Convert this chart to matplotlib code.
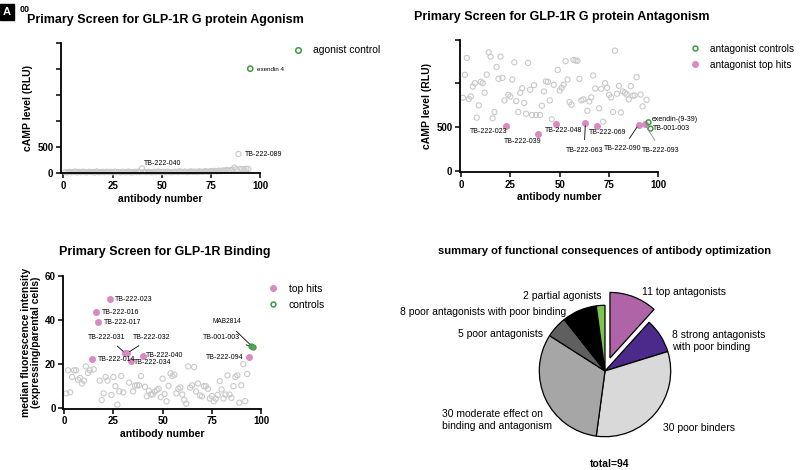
import matplotlib
matplotlib.use("Agg")
import matplotlib.pyplot as plt
from matplotlib.lines import Line2D

plt.rcParams['font.family'] = ['Liberation Sans', 'DejaVu Sans']

GREY = '#c9c9c9'
PINK = '#d98ac4'
GREEN = '#3f9a3f'

# ---- agonism screen (antibody 1..94, control at 95)
agon_values = [10, 5, 15, 8, 12, 20, 6, 14, 9, 18,
               11, 7, 16, 10, 13, 5, 22, 9, 12, 15,
               8, 17, 11, 14, 6, 19, 10, 13, 7, 16,
               12, 9, 20, 11, 8, 15, 13, 18, 10, 83,
               14, 9, 17, 12, 8, 16, 11, 21, 13, 10,
               15, 7, 19, 12, 9, 14, 18, 11, 25, 16,
               13, 20, 10, 17, 22, 14, 19, 12, 24, 18,
               15, 28, 21, 17, 30, 25, 33, 27, 38, 30,
               42, 35, 55, 40, 48, 60, 96, 65, 359, 72,
               70, 68, 75, 70]
agon_ctrl_x = [95]
agon_ctrl_y = [2000]

# ---- antagonism screen
antag_values = [837, 1099, 1292, 822, 852, 966, 1004, 610, 750, 1019,
                1004, 894, 1102, 1356, 1307, 602, 674, 1189, 1053, 1307,
                1064, 807, 515, 871, 852, 1045, 1242, 799, 674, 894,
                947, 777, 655, 1235, 928, 640, 981, 640, 428, 640,
                746, 909, 1023, 1019, 807, 591, 985, 542, 1155, 920,
                951, 985, 1254, 1045, 788, 758, 1269, 1262, 1258, 1053,
                807, 818, 549, 689, 795, 841, 1091, 943, 519, 716,
                939, 564, 1004, 951, 871, 841, 674, 1375, 883, 973,
                670, 909, 894, 875, 818, 970, 860, 864, 1072, 530,
                875, 739, 538, 814]
antag_hits = [23, 39, 48, 63, 69, 90, 93]
antag_ctrl_x = [95, 96]
antag_ctrl_y = [557, 485]

# ---- binding screen
bind_values = [6.5, 17, 7, 14, 17, 17, 12.7, 13.5, 11, 12.3,
               18.8, 15.8, 17, 22, 17.4, 43.3, 39, 12.3, 3.5, 6.5,
               14, 12.3, 49.4, 5.8, 14, 9.8, 1.4, 7.4, 14.4, 7,
               24.8, 24.8, 11.4, 21.2, 7.4, 10, 10.2, 10.2, 14.4, 23.3,
               9.5, 5.2, 7.7, 6, 6, 7.3, 8, 8.6, 4.8, 13.2,
               6.2, 2.9, 10, 15.6, 14.4, 15, 6.5, 8.6, 9.2, 6,
               3.5, 1.8, 18.8, 9.1, 10.2, 18.5, 7.4, 11, 5.6, 5.2,
               9.8, 9.8, 8.6, 4.2, 5.3, 2.9, 4.1, 5.8, 12.1, 8.3,
               4.2, 6, 14.7, 6, 4.5, 9.8, 14, 14.7, 2.3, 10.2,
               19.8, 3, 15.3, 23.2]
bind_hits = [14, 16, 17, 23, 31, 32, 34, 40, 94]
bind_ctrl_x = [95, 96]
bind_ctrl_y = [27.9, 27.4]

# ---- summary pie
pie_counts = [11, 8, 30, 30, 5, 8, 2]
pie_colors = ['#b064a8', '#4b2a8c', '#d9d9d9', '#a6a6a6', '#5f5f5f', '#000000', '#7cc44c']
pie_labels = ['11 top antagonists', '8 strong antagonists\nwith poor binding', '30 poor binders',
              '30 moderate effect on\nbinding and antagonism', '5 poor antagonists',
              '8 poor antagonists with poor binding', '2 partial agonists']

fig = plt.figure(figsize=(8, 4.7), dpi=100)

TFS = 9
LFS = 7.5
KFS = 7
AFS = 5


def style_axes(ax):
    for s in ['top', 'right']:
        ax.spines[s].set_visible(False)
    for s in ['left', 'bottom']:
        ax.spines[s].set_linewidth(1.3)
    ax.tick_params(direction='out', length=3.5, width=1.1, labelsize=KFS, pad=2)
    for lab in ax.get_xticklabels() + ax.get_yticklabels():
        lab.set_fontweight('bold')
    ax.set_xlabel('antibody number', fontsize=LFS, fontweight='bold', labelpad=2)


def split(values, hits):
    gx, gy, hx, hy = [], [], [], []
    for i, v in enumerate(values, start=1):
        if i in hits:
            hx.append(i); hy.append(v)
        else:
            gx.append(i); gy.append(v)
    return gx, gy, hx, hy


def grey_scatter(ax, x, y):
    ax.scatter(x, y, s=14, facecolors='none', edgecolors=GREY, linewidths=0.8, zorder=2, clip_on=False)


def title_px(text, x, y, size=TFS):
    fig.text(x / 800, 1 - y / 470, text, fontsize=size, fontweight='bold', ha='center', va='center')


# ===================== agonism
ax1 = fig.add_axes([0.0763, 0.6313, 0.2488, 0.2779])
agon_x = list(range(1, len(agon_values) + 1))
grey_scatter(ax1, agon_x, agon_values)
ax1.scatter(agon_ctrl_x, agon_ctrl_y, s=14, facecolors='none', edgecolors=GREEN, linewidths=1.1, zorder=3)
ax1.set_xlim(-1.2, 100)
ax1.set_ylim(-12, 2500)
ax1.set_xticks([0, 25, 50, 75, 100])
ax1.set_yticks([0, 500, 1000, 1500, 2000, 2500])
ax1.set_yticklabels(['0', '500', '', '', '', ''])
ax1.set_ylabel('cAMP level (RLU)', fontsize=LFS, fontweight='bold', labelpad=3)
style_axes(ax1)
title_px('Primary Screen for GLP-1R G protein Agonism', 165, 20)
ax1.text(50.6, 180, 'TB-222-040', fontsize=AFS, ha='center', va='center')
ax1.text(92.2, 354, 'TB-222-089', fontsize=AFS, ha='left', va='center')
ax1.text(98.2, 1988, 'exendin 4', fontsize=AFS - 0.5, ha='left', va='center')
ax1.legend(handles=[Line2D([], [], ls='', marker='o', ms=4, mfc='none', mec=GREEN, mew=1.1, label='agonist control')],
           loc='center left', bbox_to_anchor=(0.354, 0.893), bbox_transform=fig.transFigure,
           frameon=False, fontsize=LFS, handletextpad=0.5, borderaxespad=0)

# ===================== antagonism
ax2 = fig.add_axes([0.575, 0.634, 0.248, 0.2815])
gx, gy, hx, hy = split(antag_values, antag_hits)
grey_scatter(ax2, gx, gy)
ax2.scatter(hx, hy, s=16, color=PINK, zorder=3)
ax2.scatter(antag_ctrl_x, antag_ctrl_y, s=12, facecolors='none', edgecolors=GREEN, linewidths=1.1, zorder=3)
ax2.set_xlim(-0.5, 100)
ax2.set_ylim(-11, 1500)
ax2.set_xticks([0, 25, 50, 75, 100])
ax2.set_yticks([0, 500, 1000, 1500])
ax2.set_yticklabels(['0', '500', '', ''])
ax2.set_ylabel('cAMP level (RLU)', fontsize=LFS, fontweight='bold', labelpad=3)
style_axes(ax2)
title_px('Primary Screen for GLP-1R G protein Antagonism', 562, 17)
antag_notes = {23: (23.4, 454, 'right', False), 39: (31.5, 341, 'center', False),
               48: (51.8, 466, 'center', False), 63: (62.4, 239, 'center', True),
               69: (74.4, 443, 'center', False), 90: (82.0, 261, 'center', True),
               93: (101.3, 239, 'center', True)}
for idx, (tx, ty, ha, line) in antag_notes.items():
    lab = 'TB-222-%03d' % idx
    if line:
        ax2.annotate(lab, xy=(idx, antag_values[idx - 1]), xytext=(tx, ty), fontsize=AFS, ha=ha, va='center',
                     arrowprops=dict(arrowstyle='-', color='black' if idx != 93 else '#888888', lw=0.6,
                                     shrinkA=3, shrinkB=2))
    else:
        ax2.text(tx, ty, lab, fontsize=AFS, ha=ha, va='center')
ax2.text(96.4, 591, 'exendin-(9-39)', fontsize=AFS, ha='left', va='center')
ax2.text(97.0, 489, 'TB-001-003', fontsize=AFS, ha='left', va='center')
ax2.legend(handles=[Line2D([], [], ls='', marker='o', ms=3.5, mfc='none', mec=GREEN, mew=1.1, label='antagonist controls'),
                    Line2D([], [], ls='', marker='o', ms=4, mfc=PINK, mec=PINK, label='antagonist top hits')],
           loc='upper left', bbox_to_anchor=(0.851, 0.915), bbox_transform=fig.transFigure,
           frameon=False, fontsize=7.2, handletextpad=0.5, borderaxespad=0, labelspacing=0.6)

# ===================== binding
ax3 = fig.add_axes([0.0791, 0.1304, 0.2471, 0.283])
gx, gy, hx, hy = split(bind_values, bind_hits)
grey_scatter(ax3, gx, gy)
ax3.scatter(hx, hy, s=16, color=PINK, zorder=3)
ax3.scatter(bind_ctrl_x, bind_ctrl_y, s=14, color='#5aa55a', edgecolors=GREEN, linewidths=0.8, zorder=4)
ax3.set_xlim(-0.5, 100)
ax3.set_ylim(-0.45, 60)
ax3.set_xticks([0, 25, 50, 75, 100])
ax3.set_yticks([0, 20, 40, 60])
ax3.set_ylabel('median fluorescence intensity\n(expressing/parental cells)', fontsize=LFS,
               fontweight='bold', labelpad=3, linespacing=1.0)
style_axes(ax3)
title_px('Primary Screen for GLP-1R Binding', 165, 252)
bind_notes = {23: (25.9, 49.1, 'left'), 16: (19.0, 43.5, 'left'), 17: (20.0, 38.9, 'left'),
              14: (17.1, 21.7, 'left'), 34: (35.5, 20.5, 'left'), 40: (41.5, 23.6, 'left'),
              94: (91.0, 23.0, 'right')}
for idx, (tx, ty, ha) in bind_notes.items():
    ax3.text(tx, ty, 'TB-222-%03d' % idx, fontsize=AFS, ha=ha, va='center')
for idx, (tx, ty) in {31: (21.8, 32.1), 32: (44.7, 32.1)}.items():
    ax3.annotate('TB-222-%03d' % idx, xy=(idx, bind_values[idx - 1]), xytext=(tx, ty), fontsize=AFS,
                 ha='center', va='center', arrowprops=dict(arrowstyle='-', color='black', lw=0.6, shrinkA=3, shrinkB=2))
ax3.annotate('MAB2814', xy=(bind_ctrl_x[1], bind_ctrl_y[1]), xytext=(82.6, 39.0), fontsize=AFS - 0.3,
             ha='center', va='center', arrowprops=dict(arrowstyle='-', color='black', lw=0.6, shrinkA=3, shrinkB=1))
ax3.annotate('TB-001-003', xy=(bind_ctrl_x[0], bind_ctrl_y[0]), xytext=(80.0, 32.0), fontsize=AFS,
             ha='center', va='center', arrowprops=dict(arrowstyle='-', color='black', lw=0.6, shrinkA=3, shrinkB=1))
ax3.legend(handles=[Line2D([], [], ls='', marker='o', ms=4, mfc=PINK, mec=PINK, label='top hits'),
                    Line2D([], [], ls='', marker='o', ms=3.5, mfc='none', mec=GREEN, mew=1.1, label='controls')],
           loc='upper left', bbox_to_anchor=(0.323, 0.405), bbox_transform=fig.transFigure,
           frameon=False, fontsize=LFS, handletextpad=0.5, borderaxespad=0, labelspacing=0.55)

# ===================== pie
ax4 = fig.add_axes([0.56875, 0.01915, 0.375, 0.383])
ax4.pie(pie_counts, colors=pie_colors, startangle=90, counterclock=False,
        explode=[0.21, 0, 0, 0, 0, 0, 0], wedgeprops=dict(edgecolor='black', linewidth=0.9))
ax4.set_xlim(-2.283, 2.283)
ax4.set_ylim(-1.370, 1.370)
ax4.axis('off')
pie_text_pos = [(0.563, 1.202, 'left'), (1.02, 0.457, 'left'), (0.883, -0.868, 'left'),
                (-2.48, -0.746, 'left'), (-0.944, 0.563, 'right'), (-0.594, 0.898, 'right'),
                (-0.046, 1.142, 'right')]
for lab, (tx, ty, ha) in zip(pie_labels, pie_text_pos):
    ax4.text(tx, ty, lab, fontsize=LFS, ha=ha, va='center', linespacing=1.15)
ax4.text(0.076, -1.415, 'total=94', fontsize=LFS, fontweight='bold', ha='center', va='center')
title_px('summary of functional consequences of antibody optimization', 605, 251, size=8)

# panel tag in the corner
fig.text(0.004, 0.985, 'A', fontsize=8, fontweight='bold', color='white', va='top', ha='left',
         bbox=dict(facecolor='black', edgecolor='black', pad=2))
fig.text(0.024, 0.99, '00', fontsize=6.5, fontweight='bold', va='top', ha='left')

fig.savefig('out.png', dpi=100)
